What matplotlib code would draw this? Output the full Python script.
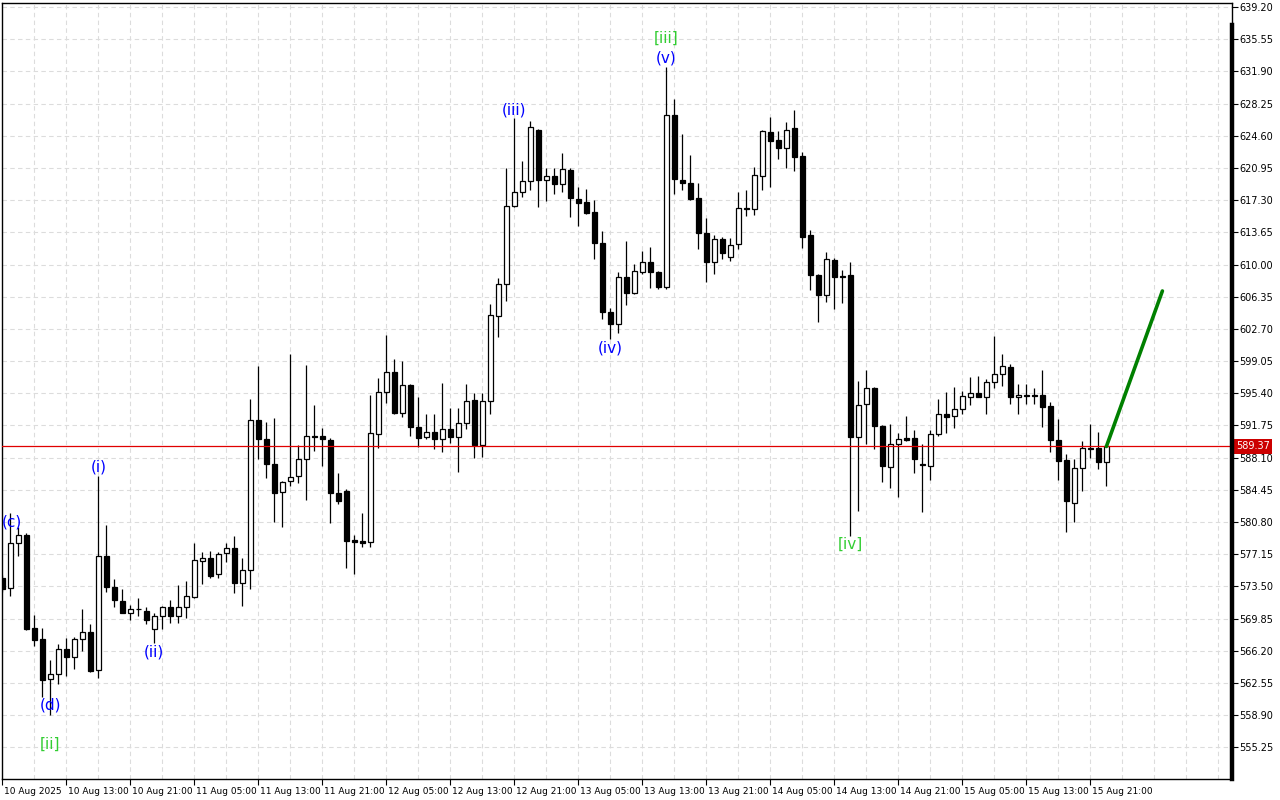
import matplotlib
matplotlib.use("Agg")
import matplotlib.pyplot as plt
import matplotlib.transforms as mtransforms
import numpy as np

# H1 bars, 10 Aug 05:00 .. 15 Aug 23:00
opens = [574.42, 573.29, 578.39, 579.33, 568.75, 567.54, 562.97, 563.54, 566.41, 565.53,
         567.51, 568.30, 563.99, 576.98, 573.47, 571.81, 570.52, 570.91, 570.75, 568.64,
         570.15, 571.13, 570.18, 571.20, 572.34, 576.42, 576.76, 574.88, 577.26, 577.82,
         573.86, 575.36, 592.37, 590.18, 587.35, 584.17, 585.45, 586.06, 587.92, 590.56,
         590.56, 590.10, 584.06, 584.32, 578.76, 578.65, 578.50, 590.75, 595.51, 597.78,
         593.13, 596.34, 591.61, 590.41, 590.98, 590.18, 591.32, 590.48, 592.00, 594.64,
         589.54, 594.56, 604.20, 607.76, 616.63, 618.26, 619.47, 625.25, 619.58, 620.04,
         619.09, 620.72, 617.43, 617.12, 615.99, 612.47, 604.58, 603.22, 608.55, 606.74,
         609.18, 610.25, 609.12, 607.48, 626.95, 619.58, 619.21, 617.58, 613.54, 610.25,
         612.86, 610.89, 612.29, 616.37, 616.26, 620.07, 625.06, 624.12, 623.24, 625.44,
         622.30, 613.35, 608.81, 606.54, 610.51, 608.75, 608.81, 590.48, 594.15, 596.03,
         591.69, 587.08, 589.62, 590.30, 590.30, 587.38, 587.19, 590.75, 593.05, 592.86,
         593.58, 595.01, 595.40, 595.01, 596.64, 597.55, 598.41, 594.94, 595.17, 595.17,
         595.21, 593.96, 590.10, 587.84, 582.99, 586.89, 589.23, 589.16, 587.64]
highs = [574.80, 581.79, 580.24, 579.56, 570.26, 568.82, 565.16, 566.97, 567.62, 567.80,
         570.94, 569.24, 586.06, 580.47, 574.31, 573.18, 571.36, 572.16, 571.13, 570.45,
         571.28, 571.96, 573.66, 574.12, 578.39, 577.44, 577.52, 577.44, 578.39, 579.25,
         576.76, 594.72, 598.53, 592.11, 592.56, 585.45, 599.85, 589.50, 598.61, 594.07,
         591.50, 590.33, 586.40, 584.55, 579.33, 581.79, 595.21, 597.10, 602.01, 599.25,
         599.06, 596.45, 594.94, 593.05, 593.05, 596.60, 593.70, 593.70, 596.45, 595.40,
         595.40, 605.49, 608.44, 620.98, 626.58, 621.74, 626.27, 625.36, 620.91, 620.91,
         622.68, 620.91, 618.82, 618.56, 617.31, 613.80, 605.10, 609.12, 612.67, 610.02,
         611.53, 611.95, 609.26, 632.43, 628.73, 624.80, 622.42, 619.28, 615.24, 613.35,
         613.09, 612.97, 618.19, 618.45, 621.02, 625.25, 626.76, 625.14, 626.19, 627.52,
         622.72, 613.91, 608.92, 611.38, 610.70, 609.38, 610.32, 596.79, 598.04, 596.15,
         591.80, 591.92, 590.93, 592.86, 591.24, 589.65, 591.24, 594.72, 595.51, 596.15,
         595.66, 597.28, 597.36, 597.02, 601.89, 599.85, 598.72, 596.45, 596.45, 595.96,
         598.04, 594.44, 592.45, 588.51, 587.95, 589.99, 591.92, 591.04, 589.45]
lows = [572.87, 572.45, 576.95, 568.56, 566.75, 561.00, 558.92, 562.44, 563.38, 564.14,
        566.21, 563.83, 563.15, 572.90, 571.13, 570.45, 569.69, 570.15, 569.24, 567.05,
        568.64, 569.39, 569.39, 569.89, 572.16, 573.78, 574.42, 574.42, 576.31, 572.79,
        571.28, 573.18, 587.92, 585.76, 580.84, 580.21, 584.92, 585.26, 583.30, 588.89,
        587.16, 580.73, 582.85, 575.56, 574.91, 578.01, 578.01, 589.16, 594.33, 593.05,
        592.75, 590.56, 589.28, 590.18, 589.05, 588.78, 589.80, 586.51, 591.35, 588.10,
        588.21, 593.05, 601.75, 605.90, 616.55, 617.69, 618.45, 616.49, 617.24, 617.99,
        618.26, 615.35, 614.40, 615.69, 610.59, 603.79, 601.52, 602.20, 605.41, 606.66,
        608.92, 607.37, 607.19, 607.22, 617.99, 618.45, 617.31, 611.76, 608.05, 608.89,
        610.63, 610.43, 611.76, 615.53, 615.61, 618.45, 618.75, 621.96, 620.91, 620.60,
        611.91, 607.11, 603.52, 605.78, 604.96, 605.67, 579.22, 582.09, 589.62, 589.08,
        585.38, 584.70, 583.67, 589.99, 586.33, 581.97, 585.57, 590.59, 590.93, 591.43,
        593.02, 594.07, 594.94, 593.05, 596.03, 596.23, 594.18, 593.05, 594.18, 594.18,
        591.54, 588.78, 585.57, 579.71, 580.84, 584.35, 588.10, 586.82, 584.89]
closes = [573.18, 578.39, 579.33, 568.67, 567.43, 562.89, 563.57, 566.37, 565.53, 567.51,
          568.30, 563.91, 576.98, 573.47, 571.96, 570.52, 570.91, 570.89, 569.69, 570.15,
          571.13, 570.18, 571.13, 572.45, 576.50, 576.76, 574.68, 577.14, 577.89, 573.86,
          575.36, 592.37, 590.18, 587.35, 584.06, 585.38, 585.94, 587.92, 590.59, 590.44,
          590.18, 584.13, 583.22, 578.69, 578.50, 578.46, 590.86, 595.51, 597.78, 593.13,
          596.34, 591.61, 590.30, 590.98, 590.18, 591.32, 590.41, 592.00, 594.53, 589.54,
          594.56, 604.28, 607.76, 616.63, 618.19, 619.47, 625.56, 619.58, 620.04, 619.09,
          620.83, 617.51, 617.01, 615.87, 612.40, 604.65, 603.22, 608.55, 606.74, 609.26,
          610.25, 609.12, 607.48, 626.95, 619.66, 619.21, 617.43, 613.54, 610.25, 612.86,
          611.27, 612.18, 616.37, 616.29, 620.15, 625.14, 624.04, 623.24, 625.25, 622.22,
          613.15, 608.81, 606.54, 610.63, 608.62, 608.64, 590.48, 594.04, 595.96, 591.72,
          587.19, 589.65, 590.18, 590.10, 587.92, 587.30, 590.75, 593.02, 592.75, 593.58,
          595.09, 595.40, 595.01, 596.64, 597.55, 598.49, 594.94, 595.21, 595.09, 595.09,
          593.88, 590.10, 587.76, 583.22, 586.89, 589.16, 589.08, 587.64, 589.37]

last_price = 589.37
forecast_bars = [138, 145]
forecast_prices = [589.37, 607.0]

time_labels = ["10 Aug 2025", "10 Aug 13:00", "10 Aug 21:00", "11 Aug 05:00", "11 Aug 13:00",
               "11 Aug 21:00", "12 Aug 05:00", "12 Aug 13:00", "12 Aug 21:00", "13 Aug 05:00",
               "13 Aug 13:00", "13 Aug 21:00", "14 Aug 05:00", "14 Aug 13:00", "14 Aug 21:00",
               "15 Aug 05:00", "15 Aug 13:00", "15 Aug 21:00"]
price_ticks = [639.20, 635.55, 631.90, 628.25, 624.60, 620.95, 617.30, 613.65, 610.00, 606.35,
               602.70, 599.05, 595.40, 591.75, 588.10, 584.45, 580.80, 577.15, 573.50, 569.85,
               566.20, 562.55, 558.90, 555.25]

# wave labels: text, bar, price, colour
waves = [("(c)", 1.2, 580.8, "blue"), ("(d)", 6.0, 560.06, "blue"), ("[ii]", 6.0, 555.64, "limegreen"),
         ("(i)", 12.0, 587.04, "blue"), ("(ii)", 19.0, 566.07, "blue"), ("(iii)", 64.0, 627.52, "blue"),
         ("[iii]", 83.0, 635.68, "limegreen"), ("(v)", 83.0, 633.41, "blue"),
         ("(iv)", 76.0, 600.53, "blue"), ("[iv]", 106.0, 578.31, "limegreen")]

o = np.array(opens)
h = np.array(highs)
l = np.array(lows)
c = np.array(closes)
x = np.arange(len(o))

fig = plt.figure(figsize=(12.8, 8), dpi=100)
ax = fig.add_axes([2 / 1280, 21 / 800, 1230 / 1280, 776 / 800])

ax.set_xlim(-0.04, 153.7)
ax.set_ylim(551.67, 639.65)

# grid
for gx in range(4, 154, 4):
    ax.axvline(gx, color="#dcdcdc", lw=0.8, ls=(0, (4, 3)), zorder=0)
for gy in price_ticks:
    ax.axhline(gy, color="#dcdcdc", lw=0.8, ls=(0, (4, 3)), zorder=0)

# candles
ax.vlines(x, l, h, color="black", lw=0.9, zorder=2)
up = c >= o
body_lo = np.minimum(o, c)
body_h = np.abs(c - o)
ax.bar(x[up], body_h[up], bottom=body_lo[up], width=0.6, facecolor="white",
       edgecolor="black", lw=0.9, zorder=3)
ax.bar(x[~up], body_h[~up], bottom=body_lo[~up], width=0.6, facecolor="black",
       edgecolor="black", lw=0.9, zorder=3)

ax.axhline(last_price, color="#e00000", lw=0.9, zorder=4)
ax.plot(forecast_bars, forecast_prices, color="#008000", lw=2.6, zorder=5,
        solid_capstyle="round")

for txt, bx, py, col in waves:
    ax.text(bx, py, txt, color=col, fontsize=11, ha="center", va="center", zorder=6)

# axes style
for side in ["left", "top", "bottom", "right"]:
    ax.spines[side].set_linewidth(1.0)
ax.plot([1, 1], [0, 0.972], transform=ax.transAxes, color="black", lw=3.2,
        clip_on=False, zorder=7)

ax.yaxis.tick_right()
ax.set_yticks(price_ticks)
ax.set_yticklabels(["%.2f" % v for v in price_ticks])
ax.tick_params(axis="y", direction="out", length=4, width=0.8, pad=1, labelsize=7)

ax.set_xticks(list(range(0, 137, 8)))
ax.set_xticklabels(time_labels)
ax.tick_params(axis="x", direction="out", length=4, width=0.8, pad=2, labelsize=6.5)
shift = mtransforms.ScaledTranslation(2 / 100, 0, fig.dpi_scale_trans)
for lab in ax.get_xticklabels():
    lab.set_horizontalalignment("left")
    lab.set_transform(lab.get_transform() + shift)

ax.annotate("%.2f" % last_price, xy=(1, last_price), xycoords=("axes fraction", "data"),
            xytext=(3, 0), textcoords="offset points", ha="left", va="center",
            fontsize=7, color="white",
            bbox=dict(boxstyle="square,pad=0.25", facecolor="#cc0000", edgecolor="none"))

fig.savefig("out.png", dpi=100, facecolor="white")
